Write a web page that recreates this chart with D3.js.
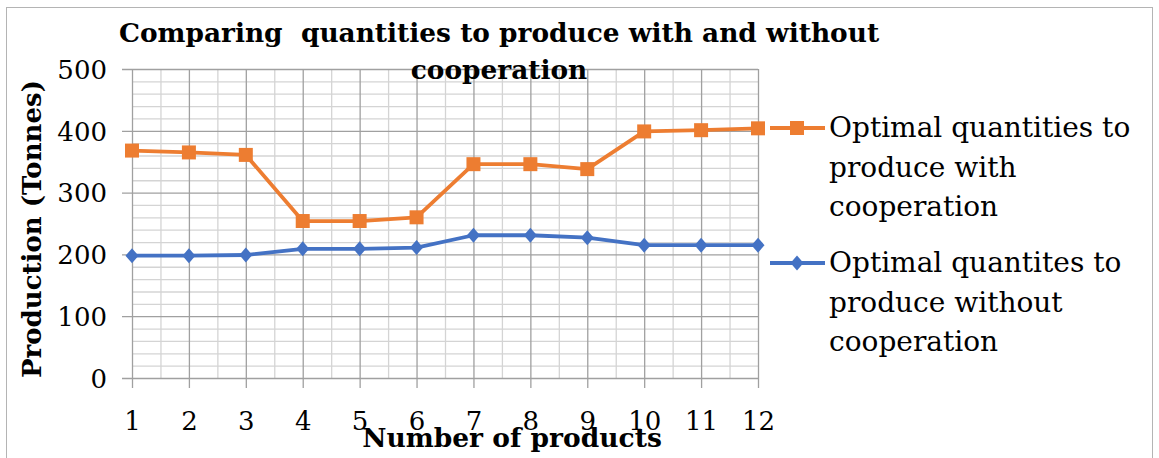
<!DOCTYPE html>
<html>
<head>
<meta charset="utf-8">
<script src="https://cdn.jsdelivr.net/npm/d3@7"></script>
<style>
  html, body { margin: 0; padding: 0; background: #fff; }
  svg { display: block; }
  text { font-family: "Palatino Linotype", "Book Antiqua", Palatino, "DejaVu Serif", serif; fill: #000; }
</style>
</head>
<body>
<div id="chart"></div>
<script>
// data
const products = [1, 2, 3, 4, 5, 6, 7, 8, 9, 10, 11, 12];
const withCooperation = [368, 365, 361, 254, 254, 260, 346, 346, 338, 399, 401, 404];
const withoutCooperation = [198, 198, 199, 209, 209, 211, 231, 231, 227, 215, 215, 215];
const yTicks = [0, 100, 200, 300, 400, 500];
const seriesNames = [
  ["Optimal quantities to", "produce with", "cooperation"],
  ["Optimal quantites to", "produce without", "cooperation"]
];
const titleLines = ["Comparing  quantities to produce with and without", "cooperation"];

const width = 1159, height = 458;
const plotL = 132, plotR = 758, plotT = 69, plotB = 378;
const major = "#a0a0a0", minor = "#d4d4d4";

const svg = d3.select("#chart").append("svg")
  .attr("width", width)
  .attr("height", height);

// outer chart border
svg.append("rect")
  .attr("x", 6.5).attr("y", 7.5)
  .attr("width", 1146).attr("height", 480)
  .attr("fill", "#fff")
  .attr("stroke", "#b4b4b4");

const x = d3.scaleLinear().domain([1, 12]).range([plotL, plotR]);
const y = d3.scaleLinear().domain([0, 500]).range([plotB, plotT]);

// minor horizontal grid (every 20)
const minorY = d3.range(20, 500, 20).filter(v => v % 100 !== 0);
svg.append("g")
  .attr("transform", `translate(${plotL},0)`)
  .call(d3.axisLeft(y).tickValues(minorY).tickSize(-(plotR - plotL)).tickFormat(""))
  .call(g => g.select(".domain").remove())
  .call(g => g.selectAll("line").attr("stroke", minor).attr("stroke-width", 1.3));

// minor vertical grid (between products)
svg.append("g")
  .attr("transform", `translate(0,${plotT})`)
  .call(d3.axisBottom(x).tickValues(d3.range(1.5, 12, 1)).tickSize(plotB - plotT).tickFormat(""))
  .call(g => g.select(".domain").remove())
  .call(g => g.selectAll("line").attr("stroke", minor).attr("stroke-width", 1.3));

// major horizontal grid, sticking out 10px to the left as tick marks
svg.append("g")
  .attr("transform", `translate(${plotR},0)`)
  .call(d3.axisLeft(y).tickValues(yTicks).tickSize(plotR - plotL + 10).tickFormat(""))
  .call(g => g.select(".domain").remove())
  .call(g => g.selectAll("line").attr("stroke", major).attr("stroke-width", 1.3));

// major vertical grid + x tick marks + labels
svg.append("g")
  .attr("transform", `translate(0,${plotT})`)
  .call(d3.axisBottom(x).tickValues(products).tickSize(plotB - plotT + 10).tickPadding(24).tickFormat(d3.format("d")))
  .call(g => g.select(".domain").remove())
  .call(g => g.selectAll("line").attr("stroke", major).attr("stroke-width", 1.3))
  .call(g => g.selectAll("text").attr("font-size", 26).attr("fill", "#000"));

// y labels
svg.append("g")
  .attr("transform", `translate(${plotL - 10},0)`)
  .call(d3.axisLeft(y).tickValues(yTicks).tickSize(0).tickPadding(15))
  .call(g => g.select(".domain").remove())
  .call(g => g.selectAll("text").attr("font-size", 26).attr("fill", "#000").attr("dy", "0.36em"));

// series
const series = [
  { values: withCooperation, color: "#ED7D31", marker: "square" },
  { values: withoutCooperation, color: "#4472C4", marker: "diamond" }
];

const markerPath = {
  square: "M-7,-7H7V7H-7Z",
  diamond: "M0,-7.5L6.5,0L0,7.5L-6.5,0Z"
};

const line = d3.line()
  .x((d, i) => x(products[i]))
  .y(d => y(d));

series.forEach(s => {
  svg.append("path")
    .attr("d", line(s.values))
    .attr("fill", "none")
    .attr("stroke", s.color)
    .attr("stroke-width", 3.8)
    .attr("stroke-linejoin", "round");
  svg.append("g")
    .selectAll("path")
    .data(s.values)
    .join("path")
    .attr("transform", (d, i) => `translate(${x(products[i])},${y(d)})`)
    .attr("d", markerPath[s.marker])
    .attr("fill", s.color);
});

// legend
const legendY = [128, 263];
series.forEach((s, k) => {
  const g = svg.append("g").attr("transform", `translate(770,${legendY[k]})`);
  g.append("line")
    .attr("x1", 0).attr("x2", 55)
    .attr("stroke", s.color).attr("stroke-width", 3.8);
  g.append("path")
    .attr("transform", "translate(27,0)")
    .attr("d", markerPath[s.marker])
    .attr("fill", s.color);
  g.append("text")
    .attr("x", 59)
    .attr("font-size", 28)
    .selectAll("tspan")
    .data(seriesNames[k])
    .join("tspan")
    .attr("x", 59)
    .attr("y", (d, i) => 9 + i * 39.5)
    .text(d => d);
});

// title
svg.append("text")
  .attr("font-size", 26.4)
  .attr("font-weight", "bold")
  .attr("text-anchor", "middle")
  .style("white-space", "pre")
  .selectAll("tspan")
  .data(titleLines)
  .join("tspan")
  .attr("x", 499)
  .attr("y", (d, i) => 42 + i * 37)
  .text(d => d);

// axis titles
svg.append("text")
  .attr("transform", "translate(41,229) rotate(-90)")
  .attr("text-anchor", "middle")
  .attr("font-size", 26)
  .attr("font-weight", "bold")
  .text("Production (Tonnes)");

svg.append("text")
  .attr("x", 512)
  .attr("y", 447)
  .attr("text-anchor", "middle")
  .attr("font-size", 26.5)
  .attr("font-weight", "bold")
  .text("Number of products");
</script>
</body>
</html>
